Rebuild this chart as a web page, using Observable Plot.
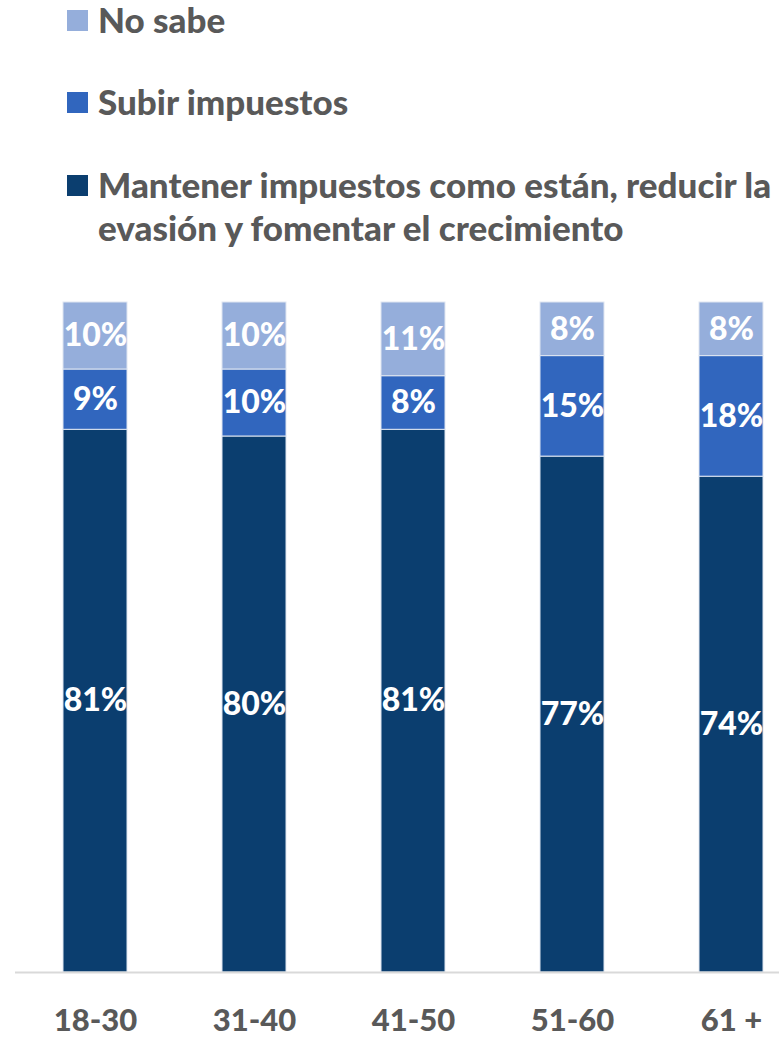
<!DOCTYPE html>
<html><head><meta charset="utf-8">
<script src="https://cdn.jsdelivr.net/npm/d3@7"></script>
<script src="https://cdn.jsdelivr.net/npm/@observablehq/plot@0.6"></script>
<style>
body{margin:0;background:#fff;width:779px;height:1037px;overflow:hidden;font-family:Lato,"Open Sans",sans-serif}
#legend{display:block}
#chart svg{display:block}
</style>
</head><body>
<div id="legend"></div>
<div id="chart"></div>
<script>
const groups = ["18-30", "31-40", "41-50", "51-60", "61 +"];
const mantener = [81, 80, 81, 77, 74];
const subir = [9, 10, 8, 15, 18];
const noSabe = [10, 10, 11, 8, 8];
const seriesNames = ["Mantener impuestos como están, reducir la evasión y fomentar el crecimiento", "Subir impuestos", "No sabe"];
const seriesColors = ["#0b3e6f", "#3166be", "#95aedb"];
const legendOrder = [2, 1, 0];
const legendLines = [["No sabe"], ["Subir impuestos"], ["Mantener impuestos como están, reducir la", "evasión y fomentar el crecimiento"]];

const values = [mantener, subir, noSabe];
const data = [];
seriesNames.forEach((s, si) => groups.forEach((g, gi) => data.push({group: g, series: s, value: values[si][gi]})));

// Legend
const lg = d3.select("#legend").append("svg").attr("width", 779).attr("height", 280);
const rowY = [10, 92, 175];
legendOrder.forEach((si, r) => {
  lg.append("rect").attr("x", 67).attr("y", rowY[r]).attr("width", 21).attr("height", 21).attr("fill", seriesColors[si]);
  legendLines[r].forEach((line, li) => {
    lg.append("text").attr("x", 98).attr("y", rowY[r] + 22.5 + li * 43)
      .attr("font-size", 35).attr("font-weight", 900).attr("fill", "#595959")
      .attr("font-family", "Lato, sans-serif").text(line);
  });
});

const chart = Plot.plot({
  width: 779,
  height: 757,
  marginTop: 19,
  marginBottom: 68,
  marginLeft: 15,
  marginRight: 0,
  style: {fontFamily: "Lato, sans-serif", background: "white"},
  x: {domain: groups, paddingInner: 0.598, paddingOuter: 0.198, align: 0.746, label: null},
  y: {domain: [0, 100], axis: null},
  color: {domain: seriesNames, range: seriesColors},
  marks: [
    Plot.barY(data, {x: "group", y: "value", fill: "series", stroke: "#dfe6f1", strokeWidth: 1, inset: 0}),
    Plot.ruleY([0], {stroke: "#d9d9d9", strokeWidth: 2}),
    Plot.text(data, Plot.stackY({x: "group", y: "value", z: "series", text: d => d.value + "%", fill: "white", fontSize: 32, fontWeight: 900})),
    Plot.axisX({tickSize: 0, tickPadding: 36, fontSize: 31, fontWeight: 900, fill: "#595959", label: null})
  ]
});
document.getElementById("chart").appendChild(chart);
</script>
</body></html>
